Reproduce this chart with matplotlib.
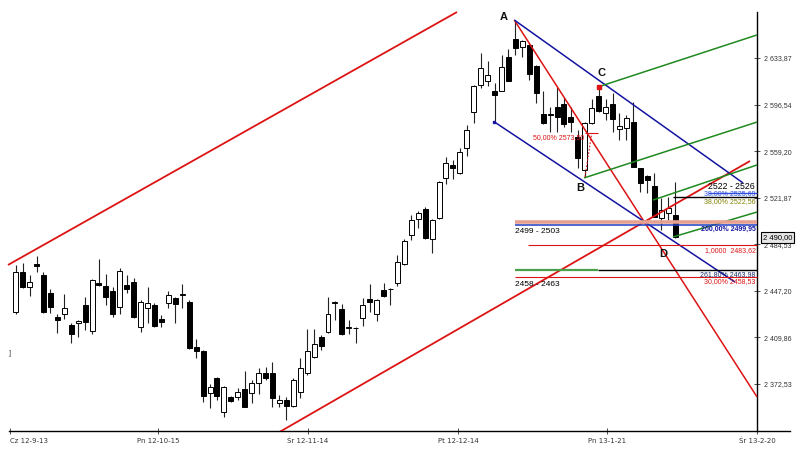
import matplotlib
matplotlib.use("Agg")
import matplotlib.pyplot as plt
from matplotlib.lines import Line2D

# ---------------- data ----------------
opens = [2430.3, 2462.3, 2450.3, 2468.5, 2459.9, 2445.5, 2426.3, 2428.7, 2419.9, 2421.5,
         2435.9, 2415.1, 2453.5, 2451.1, 2447.1, 2434.3, 2451.9, 2454.3, 2418.3, 2433.5,
         2435.9, 2424.7, 2437.5, 2441.5, 2443.5, 2438.3, 2402.2, 2399.0, 2365.4, 2377.4,
         2350.2, 2362.2, 2362.2, 2368.6, 2365.4, 2373.4, 2381.4, 2381.4, 2357.4, 2359.8,
         2355.0, 2366.2, 2381.4, 2394.2, 2410.3, 2414.3, 2437.5, 2432.7, 2417.5, 2417.8,
         2425.5, 2440.7, 2428.7, 2447.9, 2449.0, 2453.5, 2468.8, 2492.0, 2504.8, 2512.8,
         2488.8, 2505.6, 2537.7, 2548.1, 2541.7, 2561.3, 2590.8, 2612.2, 2615.6, 2607.6,
         2607.6, 2634.9, 2648.8, 2642.9, 2644.2, 2627.4, 2589.0, 2588.6, 2594.3, 2597.0,
         2586.8, 2570.8, 2544.1, 2581.5, 2603.4, 2590.0, 2597.0, 2576.7, 2577.5, 2582.8,
         2545.4, 2539.3, 2531.3, 2505.4, 2509.4, 2508.0]
highs = [2467.9, 2469.6, 2459.9, 2475.2, 2462.3, 2448.7, 2428.7, 2444.7, 2421.5, 2423.9,
         2442.3, 2456.7, 2472.8, 2460.7, 2450.3, 2465.5, 2459.9, 2457.5, 2439.9, 2450.3,
         2437.5, 2427.9, 2447.1, 2442.3, 2452.7, 2439.9, 2408.7, 2399.8, 2372.6, 2378.2,
         2371.0, 2363.0, 2369.4, 2383.0, 2375.8, 2385.4, 2386.2, 2390.2, 2363.8, 2362.2,
         2377.4, 2393.4, 2416.7, 2416.7, 2411.9, 2442.3, 2439.1, 2436.7, 2423.9, 2418.3,
         2441.5, 2452.7, 2440.7, 2453.5, 2449.5, 2476.0, 2488.8, 2508.0, 2511.2, 2514.4,
         2504.8, 2535.3, 2554.5, 2552.1, 2561.7, 2580.1, 2612.2, 2637.6, 2631.4, 2613.6,
         2636.2, 2640.8, 2664.3, 2648.2, 2646.1, 2628.2, 2607.6, 2594.8, 2610.3, 2602.8,
         2594.8, 2576.1, 2582.6, 2600.7, 2610.8, 2600.7, 2606.0, 2589.5, 2588.2, 2598.8,
         2545.8, 2540.1, 2541.4, 2521.6, 2522.7, 2534.7]
lows = [2428.5, 2449.5, 2443.1, 2462.3, 2429.5, 2429.5, 2413.5, 2424.7, 2405.5, 2410.3,
        2415.9, 2412.7, 2451.1, 2435.9, 2426.3, 2428.7, 2445.5, 2425.5, 2414.3, 2421.5,
        2418.3, 2418.3, 2433.5, 2421.5, 2433.5, 2400.6, 2393.4, 2358.2, 2353.4, 2359.8,
        2346.2, 2358.2, 2359.8, 2353.8, 2357.4, 2364.6, 2375.8, 2354.2, 2354.2, 2343.8,
        2354.2, 2361.4, 2379.8, 2393.4, 2399.8, 2413.5, 2423.9, 2411.9, 2412.7, 2405.5,
        2419.1, 2430.3, 2423.1, 2442.3, 2435.9, 2451.1, 2467.9, 2488.0, 2497.6, 2488.8,
        2477.6, 2504.8, 2532.9, 2536.9, 2540.9, 2555.3, 2581.7, 2609.5, 2611.4, 2583.3,
        2607.4, 2615.4, 2636.2, 2634.9, 2616.2, 2597.5, 2580.9, 2574.8, 2574.8, 2578.8,
        2574.8, 2545.4, 2538.7, 2581.0, 2590.6, 2584.1, 2574.8, 2568.1, 2568.1, 2546.4,
        2526.7, 2525.4, 2506.4, 2496.0, 2504.0, 2489.6]
closes = [2462.3, 2450.3, 2454.3, 2467.5, 2430.3, 2434.3, 2423.9, 2433.5, 2412.7, 2423.1,
          2422.3, 2455.9, 2451.9, 2442.3, 2428.7, 2463.2, 2448.7, 2426.3, 2438.3, 2437.5,
          2419.1, 2422.3, 2443.9, 2436.7, 2444.3, 2401.4, 2399.0, 2363.0, 2370.2, 2363.0,
          2370.2, 2359.0, 2366.2, 2354.2, 2373.4, 2381.4, 2377.4, 2361.4, 2359.8, 2355.0,
          2375.8, 2385.4, 2399.0, 2404.6, 2403.0, 2428.7, 2438.3, 2412.7, 2418.5, 2417.2,
          2435.9, 2438.3, 2439.9, 2443.1, 2448.4, 2470.4, 2487.2, 2504.0, 2509.6, 2489.6,
          2504.0, 2534.5, 2549.7, 2545.7, 2558.5, 2576.1, 2611.4, 2625.6, 2620.2, 2604.2,
          2626.4, 2615.6, 2641.6, 2647.5, 2621.0, 2606.0, 2581.5, 2587.8, 2586.3, 2580.9,
          2582.8, 2553.9, 2582.0, 2593.5, 2591.4, 2594.8, 2584.7, 2579.3, 2585.5, 2546.7,
          2533.4, 2536.1, 2506.7, 2512.0, 2513.4, 2490.0]

xtick_pos = [-0.82, 20.51, 42.12, 63.73, 85.20, 106.82]
xtick_labels = ["Cz 12-9-13", "Pn 12-10-15", "Śr 12-11-14", "Pt 12-12-14", "Pn 13-1-21", "Śr 13-2-20"]
ytick_vals = [2372.53, 2409.86, 2447.20, 2484.53, 2521.87, 2559.20, 2596.54, 2633.87]
last_price = 2490.00

# trend lines: (x0, y0, x1, y1)
red_upper = (-1.11, 2467.96, 63.59, 2670.68)
red_lower = (37.51, 2332.5, 105.81, 2551.3)
red_steep = (71.84, 2664.27, 106.82, 2362.2)
blue_upper = (71.84, 2664.27, 104.80, 2533.7)
blue_lower = (68.92, 2582.78, 103.65, 2454.3)
green_1 = (83.90, 2610.6, 106.82, 2652.3)
green_2 = (81.89, 2537.7, 106.82, 2582.5)
green_3 = (91.83, 2520.0, 106.82, 2548.1)
green_4 = (94.71, 2490.4, 106.82, 2510.4)
red_dotted = (82.03, 2538.5, 83.0, 2573.5)

# horizontal levels: (price, x_start, x_end)
lvl_salmon = (2502.6, 71.95, 106.82)
lvl_blue200 = (2500.0, 71.95, 106.82)
lvl_red100 = (2483.62, 73.82, 106.82)
lvl_green = (2463.98, 71.95, 83.9)
lvl_black261 = (2463.98, 83.9, 106.82)
lvl_red30 = (2458.53, 71.95, 106.82)
lvl_black38 = (2522.56, 94.7, 106.82)
lvl_blue38 = (2525.4, 99.7, 106.82)
lvl_red50 = (2573.5, 82.03, 83.9)

points = {"A": (70.36, 2666.7), "B": (81.31, 2529.7), "C": (84.34, 2621.8), "D": (93.27, 2476.8)}

# ---------------- figure ----------------
fig = plt.figure(figsize=(8, 4.5), dpi=100)
ax = fig.add_axes([0, 19 / 450, 790 / 800, 431 / 450])
plt.rcParams['font.family'] = ['Liberation Sans', 'DejaVu Sans']

XMIN, XMAX = -2.262, 111.57
YMIN, YMAX = 2334.9, 2680.3
ax.set_xlim(XMIN, XMAX)
ax.set_ylim(YMIN, YMAX)

# candles
w = 0.72
for i, (o, h, l, c) in enumerate(zip(opens, highs, lows, closes)):
    ax.vlines(i, l, h, color='#222222', lw=0.8, zorder=2)
    bottom = min(o, c)
    height = max(abs(c - o), 0.5)
    fc = 'white' if c >= o else 'black'
    ax.bar(i, height, bottom=bottom, width=w, color=fc, edgecolor='black', linewidth=0.7, zorder=3)

def seg(line, **kw):
    x0, y0, x1, y1 = line
    ax.plot([x0, x1], [y0, y1], solid_capstyle='butt', **kw)

RED = '#dd1414'
BLUE = '#1414a0'
GREEN = '#1f8a1f'

seg(red_upper, color=RED, lw=1.3, zorder=4)
seg(red_lower, color=RED, lw=1.3, zorder=4)
seg(red_steep, color=RED, lw=1.1, zorder=4)
seg(blue_upper, color=BLUE, lw=1.1, zorder=4)
seg(blue_lower, color=BLUE, lw=1.1, zorder=4)
for g in (green_1, green_2, green_3, green_4):
    seg(g, color=GREEN, lw=1.1, zorder=4)
seg(red_dotted, color=RED, lw=0.8, ls=(0, (1.5, 1.5)), zorder=4)

def hline(lvl, **kw):
    p, x0, x1 = lvl
    ax.plot([x0, x1], [p, p], solid_capstyle='butt', **kw)

hline(lvl_salmon, color='#e8a090', lw=2.6, zorder=4)
hline(lvl_blue200, color='#1f3fc0', lw=1.1, zorder=4)
hline(lvl_red100, color=RED, lw=0.8, zorder=4)
hline(lvl_green, color='#4aa04a', lw=1.6, zorder=4)
hline(lvl_black261, color='black', lw=1.0, zorder=4)
hline(lvl_red30, color=RED, lw=0.8, zorder=4)
hline(lvl_black38, color='black', lw=1.0, zorder=4)
hline(lvl_blue38, color='#3050e0', lw=1.0, zorder=4)
hline(lvl_red50, color=RED, lw=0.8, zorder=4)

# small markers
ax.plot([blue_lower[0]], [blue_lower[1]], 's', ms=1.8, color=BLUE, zorder=5)
ax.plot([84.06], [2610.8], 's', ms=2.2, color=RED, zorder=5)

# fib labels (right aligned at axis)
xr = 106.6
fs = 5
ax.text(xr, lvl_blue38[0], "38,00% 2525,69", color='#3050e0', fontsize=fs, ha='right', va='center', zorder=6)
ax.text(xr, lvl_black38[0] - 0.8, "38,00% 2522,56", color='#808000', fontsize=fs, ha='right', va='top', zorder=6)
ax.text(xr, lvl_blue200[0] - 0.6, "200,00% 2499,95", color='#1414a0', fontsize=fs, ha='right', va='top', fontweight='bold', zorder=6)
ax.text(xr, lvl_red100[0] - 1.0, "1,0000  2483,62", color=RED, fontsize=fs, ha='right', va='top', zorder=6)
ax.text(xr, lvl_black261[0] - 0.6, "261,80% 2463,98", color='#1a2a6a', fontsize=fs, ha='right', va='top', zorder=6)
ax.text(xr, lvl_red30[0] - 1.0, "30,00% 2458,53", color=RED, fontsize=fs, ha='right', va='top', zorder=6)
ax.text(81.9, lvl_red50[0] - 0.6, "50,00% 2573,50", color=RED, fontsize=fs, ha='right', va='top', zorder=6)

ax.text(103.07, 2530.5, "2522 - 2526", color='black', fontsize=6.3, ha='center', va='center', zorder=6)
ax.text(71.95, 2494.6, "2499 - 2503", color='black', fontsize=6, ha='left', va='center', zorder=6)
ax.text(71.95, 2452.3, "2458 - 2463", color='black', fontsize=6, ha='left', va='center', zorder=6)

for name, (px, py) in points.items():
    ax.text(px, py, name, fontsize=8, fontweight='bold', ha='center', va='center', color='#111111', zorder=6)

ax.text(-0.82, 2397.4, "]", fontsize=5, ha='center', va='center', color='#333333')

# axes styling
for s in ('left', 'top'):
    ax.spines[s].set_visible(False)
ax.spines['right'].set_position(('data', 106.82))
ax.spines['right'].set_bounds(YMIN, 2670.7)
ax.spines['bottom'].set_bounds(-0.97, XMAX)
ax.spines['right'].set_linewidth(1.0)
ax.spines['bottom'].set_linewidth(1.0)
ax.yaxis.tick_right()
ax.set_yticks(ytick_vals)
ax.set_yticklabels([f"{v:,.2f}".replace(",", " ").replace(".", ",") for v in ytick_vals])
ax.set_xticks(xtick_pos)
ax.set_xticklabels(xtick_labels)
ax.tick_params(axis='both', direction='inout', length=4, width=0.6, labelsize=5, colors='#333333', pad=3)
ax.get_xticklabels()[0].set_ha('left')

ax.text(109.75, last_price, "2 490,00", fontsize=5.5, ha='center', va='center', color='black',
        bbox=dict(boxstyle='square,pad=0.25', fc='#e6e6e6', ec='black', lw=0.8), zorder=10, clip_on=False)

fig.savefig("out.png", dpi=100)
